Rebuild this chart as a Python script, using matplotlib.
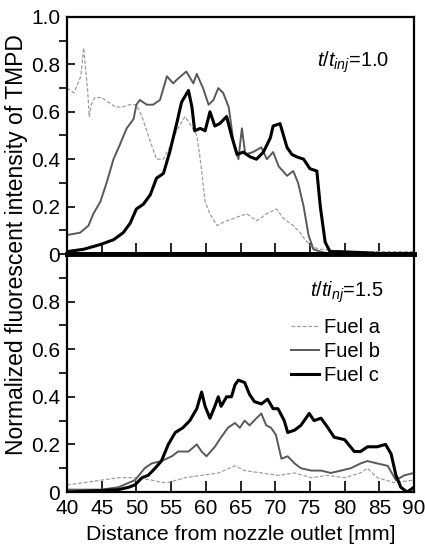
import numpy as np
import matplotlib.pyplot as plt
from matplotlib.ticker import MultipleLocator, FuncFormatter

plt.rcParams['font.family'] = ['Liberation Sans', 'DejaVu Sans']
plt.rcParams['mathtext.fontset'] = 'custom'
plt.rcParams['mathtext.it'] = 'Liberation Sans:italic'
plt.rcParams['mathtext.rm'] = 'Liberation Sans'

# ---- t/tinj = 1.0 (upper panel) ----
xa1 = [40, 41, 42, 42.4, 43, 43.2, 43.5, 44, 45, 46, 47, 48, 49, 50, 50.8, 51.7,
       52.9, 53.9, 54.8, 55.8, 57.0, 57.7, 58.7, 59.2, 59.9, 60.6, 61.6, 63.0,
       64.0, 65.9, 67.3, 68.8, 70.2, 71.2, 72.6, 73.6, 74.3, 75.3, 76.5, 80, 90]
ya1 = [0.70, 0.68, 0.75, 0.87, 0.68, 0.58, 0.63, 0.66, 0.66, 0.64, 0.62, 0.62,
       0.63, 0.63, 0.58, 0.50, 0.40, 0.40, 0.45, 0.52, 0.58, 0.55, 0.50, 0.40,
       0.22, 0.17, 0.12, 0.14, 0.15, 0.17, 0.14, 0.17, 0.19, 0.15, 0.12, 0.09,
       0.06, 0.03, 0.02, 0.01, 0.01]

xb1 = [40, 41.9, 43.1, 43.8, 44.8, 45.7, 46.7, 47.6, 48.6, 49.6, 50.0, 50.5,
       51.5, 52.4, 53.4, 54.4, 55.3, 56.0, 57.2, 58.2, 58.7, 59.6, 60.4, 61.1,
       61.8, 62.5, 63.3, 64.0, 64.7, 65.2, 65.7, 66.8, 68.0, 68.8, 69.7, 70.5,
       71.7, 72.6, 73.3, 74.1, 74.8, 75.5, 76.5, 78, 90]
yb1 = [0.08, 0.09, 0.12, 0.17, 0.22, 0.30, 0.40, 0.46, 0.53, 0.57, 0.63, 0.65,
       0.63, 0.63, 0.65, 0.75, 0.72, 0.74, 0.77, 0.72, 0.76, 0.70, 0.63, 0.65,
       0.70, 0.68, 0.62, 0.47, 0.40, 0.53, 0.42, 0.43, 0.45, 0.40, 0.43, 0.37,
       0.33, 0.35, 0.30, 0.20, 0.08, 0.02, 0.01, 0.0, 0.0]

xc1 = [40, 42.4, 44.8, 46.7, 48.1, 49.1, 50.0, 51.0, 52.0, 52.9, 53.9, 54.8,
       55.8, 56.5, 57.5, 58.0, 58.4, 59.2, 59.9, 60.6, 61.3, 62.0, 63.0, 63.7,
       64.5, 65.4, 66.4, 67.3, 68.3, 69.3, 69.7, 70.7, 71.2, 71.7, 72.4, 73.1,
       74.1, 75.0, 76.0, 76.5, 77.2, 77.9, 79.3, 83.2, 86, 90]
yc1 = [0.01, 0.02, 0.04, 0.06, 0.09, 0.13, 0.19, 0.21, 0.25, 0.32, 0.34, 0.43,
       0.55, 0.64, 0.69, 0.62, 0.52, 0.53, 0.52, 0.60, 0.54, 0.55, 0.58, 0.50,
       0.42, 0.43, 0.41, 0.40, 0.43, 0.49, 0.54, 0.55, 0.50, 0.45, 0.42, 0.41,
       0.40, 0.36, 0.35, 0.20, 0.05, 0.01, 0.01, 0.005, 0.0, 0.0]

# ---- t/tinj = 1.5 (lower panel) ----
xa2 = [40, 42.6, 45.0, 47.4, 49.8, 52.2, 53.6, 54.6, 57.0, 59.4, 61.8, 64.2,
       65.6, 68.0, 70.4, 72.8, 75.2, 77.6, 80.0, 82.3, 83.3, 84.7, 87.1, 90]
ya2 = [0.03, 0.04, 0.05, 0.06, 0.06, 0.05, 0.04, 0.04, 0.06, 0.07, 0.08, 0.11,
       0.09, 0.08, 0.07, 0.08, 0.06, 0.07, 0.06, 0.08, 0.10, 0.06, 0.04, 0.05]

xb2 = [40, 45, 47.4, 49.8, 51.2, 52.2, 53.6, 55.1, 56.0, 57.5, 58.7, 59.4, 60.1,
       61.3, 62.2, 63.2, 64.2, 64.9, 65.6, 66.3, 67.3, 68.0, 68.7, 69.4, 70.1,
       70.9, 71.8, 72.8, 73.7, 75.2, 76.6, 78.0, 79.5, 80.9, 82.3, 83.3, 84.7,
       86.2, 87.4, 88.6, 90]
yb2 = [0.01, 0.01, 0.02, 0.05, 0.10, 0.12, 0.13, 0.15, 0.17, 0.17, 0.20, 0.17,
       0.15, 0.19, 0.23, 0.27, 0.29, 0.27, 0.30, 0.28, 0.31, 0.33, 0.28, 0.27,
       0.24, 0.14, 0.15, 0.12, 0.10, 0.09, 0.09, 0.08, 0.09, 0.10, 0.12, 0.13,
       0.12, 0.11, 0.05, 0.07, 0.08]

xc2 = [40, 44, 47.4, 48.9, 49.8, 50.8, 51.7, 52.7, 53.6, 54.6, 55.6, 56.7, 57.7,
       58.7, 59.4, 59.9, 60.6, 61.3, 61.8, 62.2, 63.0, 63.7, 64.2, 64.7, 65.6,
       66.3, 67.0, 68.0, 68.9, 69.7, 70.4, 71.3, 71.8, 72.8, 73.7, 74.9, 75.6,
       76.6, 77.6, 78.5, 80.0, 81.4, 82.3, 83.3, 84.7, 85.9, 86.7, 87.4, 88.1,
       89.0, 90]
yc2 = [0.0, 0.005, 0.01, 0.02, 0.03, 0.06, 0.07, 0.10, 0.13, 0.20, 0.25, 0.27,
       0.30, 0.35, 0.42, 0.36, 0.31, 0.36, 0.40, 0.36, 0.40, 0.40, 0.45, 0.47,
       0.46, 0.41, 0.38, 0.37, 0.39, 0.35, 0.35, 0.30, 0.25, 0.26, 0.28, 0.33,
       0.30, 0.31, 0.27, 0.23, 0.22, 0.17, 0.17, 0.19, 0.19, 0.20, 0.16, 0.07,
       0.02, 0.0, 0.02]

labels = ['Fuel a', 'Fuel b', 'Fuel c']

fig = plt.figure(figsize=(4.25, 5.55), dpi=100)
L, W = 67 / 425, 347 / 425
ax1 = fig.add_axes([L, 1 - 254 / 555, W, 237 / 555])
ax2 = fig.add_axes([L, 1 - 492 / 555, W, 238 / 555])

styles = [dict(color='0.62', lw=0.9, ls=(0, (3, 1.5))),
          dict(color='0.35', lw=1.4),
          dict(color='black', lw=2.2)]

for ax, data in [(ax1, [(xa1, ya1), (xb1, yb1), (xc1, yc1)]),
                 (ax2, [(xa2, ya2), (xb2, yb2), (xc2, yc2)])]:
    for (x, y), st, lab in zip(data, styles, labels):
        ax.plot(x, y, label=lab, **st)
    ax.set_xlim(40, 90)
    ax.set_ylim(0, 1.0)
    ax.xaxis.set_major_locator(MultipleLocator(5))
    ax.yaxis.set_major_locator(MultipleLocator(0.2))
    ax.yaxis.set_minor_locator(MultipleLocator(0.1))
    ax.yaxis.set_major_formatter(FuncFormatter(lambda v, p: '0' if abs(v) < 1e-9 else f'{v:.1f}'))
    ax.tick_params(direction='in', labelsize=15, top=False, right=False, pad=5)
    ax.tick_params(axis='x', length=8, width=1.2)
    ax.tick_params(axis='y', which='both', length=6, width=1.2)
    for s in ax.spines.values():
        s.set_linewidth(1.6)

ax1.tick_params(axis='x', labelbottom=False)
ax1.spines['bottom'].set_linewidth(3.5)
ax2.spines['top'].set_linewidth(3.5)
ax2.set_yticks([0, 0.2, 0.4, 0.6, 0.8])
ax2.set_xticks(np.arange(40, 91, 5))

ax1.text(0.72, 0.79, r'$t/t_{inj}$=1.0', transform=ax1.transAxes, fontsize=14.5)
ax2.text(0.70, 0.82, r'$t/ti_{nj}$=1.5', transform=ax2.transAxes, fontsize=14.5)

ax2.legend(loc='upper left', bbox_to_anchor=(0.645, 0.73), frameon=False,
           fontsize=14.5, handlelength=1.4, handletextpad=0.25, labelspacing=0.25,
           borderaxespad=0, borderpad=0)

ax2.set_xlabel('Distance from nozzle outlet [mm]', fontsize=15.3, labelpad=5)
fig.text(17 / 425, 1 - 245 / 555, 'Normalized fluorescent intensity of TMPD',
         rotation=90, va='center', ha='center', fontsize=16.5)

fig.savefig('out.png', dpi=100)
